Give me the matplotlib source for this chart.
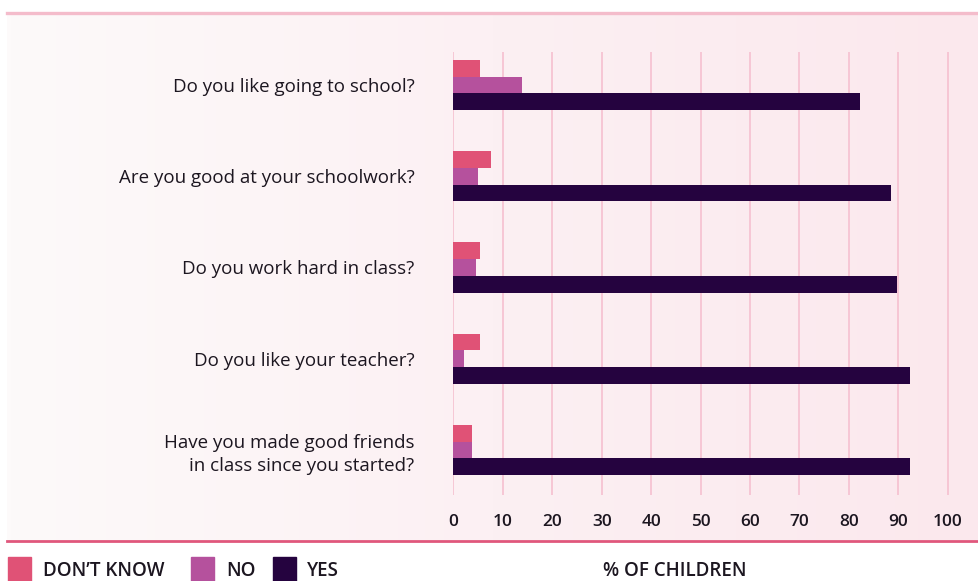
import numpy as np
import matplotlib.pyplot as plt
from matplotlib.patches import Rectangle
from matplotlib.lines import Line2D
from matplotlib.colors import LinearSegmentedColormap

# survey answers, % of children
questions = [
    "Do you like going to school?",
    "Are you good at your schoolwork?",
    "Do you work hard in class?",
    "Do you like your teacher?",
    "Have you made good friends\nin class since you started?",
]
dont_know = [5.4, 7.6, 5.4, 5.4, 3.7]
no = [13.9, 5.0, 4.5, 2.1, 3.7]
yes = [82.3, 88.6, 89.8, 92.4, 92.4]
x_ticks = list(range(0, 101, 10))
series_names = ["DON\u2019T KNOW", "NO", "YES"]

C_DK = "#e05276"
C_NO = "#b5519d"
C_YES = "#25033f"
TEXT = "#1c1620"
FONT = "Open Sans"

W, H = 979, 581
fig = plt.figure(figsize=(W / 100, H / 100), dpi=100)


def fx(px):
    return px / W


def fy(py):
    return 1 - py / H


# soft pink gradient panel behind the chart
bg = fig.add_axes([fx(7.5), fy(540), 1 - fx(7.5), (540 - 14) / H])
grad = np.linspace(0, 1, 256).reshape(1, -1)
cmap = LinearSegmentedColormap.from_list("bg", ["#fdfafa", "#fcf0f3", "#fbe8ed"])
bg.imshow(grad, aspect="auto", cmap=cmap, extent=[0, 1, 0, 1])
bg.axis("off")

# top and bottom rules
fig.add_artist(Line2D([fx(7.5), 1], [fy(12.5), fy(12.5)], color="#f4bccb", lw=2.4))
fig.add_artist(Line2D([fx(7.5), 1], [fy(541), fy(541)], color="#e0577c", lw=2.0))

# bar axes: 0..100 spans px 453.5..947.5
px_per_unit = (947.5 - 453.5) / 100
ax = fig.add_axes([fx(453.5), fy(495), 1 - fx(453.5), (495 - 52) / H])
ax.set_xlim(0, (979 - 453.5) / px_per_unit)
step = 91.25
ax.set_ylim(4 + (495 - 450) / step, -(85 - 52) / step)
ax.patch.set_visible(False)

for t in x_ticks:
    ax.axvline(t, color="#f5c0d0", lw=1.2, zorder=0)

y = np.arange(len(questions))
h = 16.7 / step
ax.barh(y - h, dont_know, height=h, color=C_DK, zorder=2)
ax.barh(y, no, height=h, color=C_NO, zorder=2)
ax.barh(y + h, yes, height=h, color=C_YES, zorder=2)

for s in ax.spines.values():
    s.set_visible(False)

ax.set_xticks(x_ticks)
ax.set_xticklabels([str(t) for t in x_ticks], fontsize=12.4, fontweight="semibold",
                   family=FONT, color=TEXT)
ax.tick_params(axis="x", length=0, pad=14)

ax.set_yticks(y)
ax.set_yticklabels(questions, fontsize=13.5, family=FONT, color=TEXT,
                   linespacing=1.35)
ax.tick_params(axis="y", length=0, pad=28)

# legend row
legend_items = [(8, 43, C_DK), (191, 226, C_NO), (273, 307, C_YES)]
for (sx, tx, col), name in zip(legend_items, series_names):
    fig.add_artist(Rectangle((fx(sx), fy(581)), fx(23), 24 / H, color=col,
                             transform=fig.transFigure))
    fig.text(fx(tx), fy(571), name, fontsize=13.5, fontweight="semibold",
             family=FONT, color=TEXT, va="center", ha="left")

fig.text(fx(603), fy(571), "% OF CHILDREN", fontsize=13.5, fontweight="semibold",
         family=FONT, color=TEXT, va="center", ha="left")

fig.savefig("out.png", dpi=100)
